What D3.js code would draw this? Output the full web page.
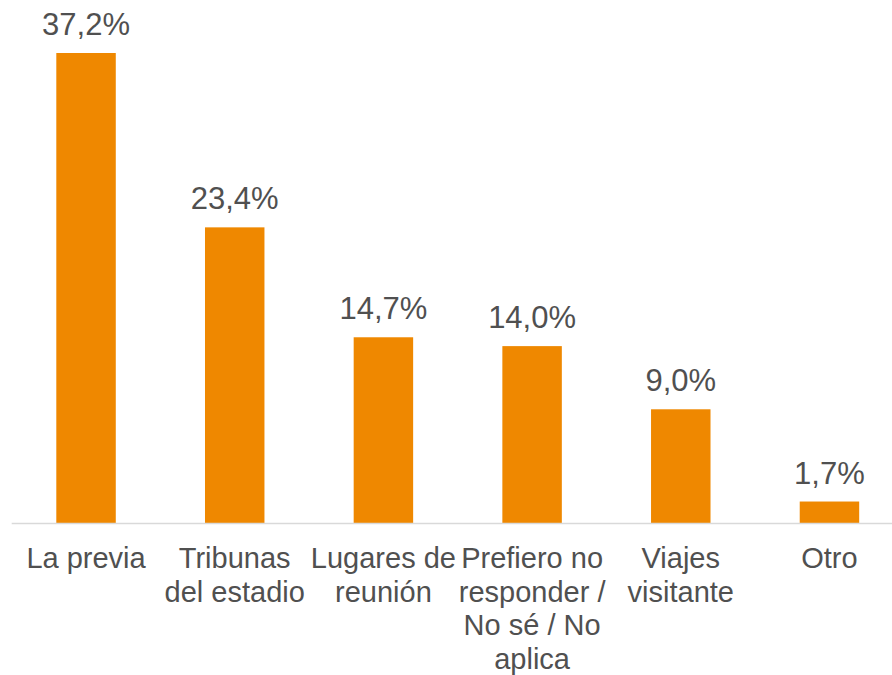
<!DOCTYPE html>
<html>
<head>
<meta charset="utf-8">
<script src="https://cdn.jsdelivr.net/npm/d3@7"></script>
<style>
  body { margin: 0; background: #ffffff; }
  svg { display: block; font-family: Arial, "Liberation Sans", sans-serif; }
</style>
</head>
<body>
<svg id="drawing_region"></svg>
<script>
const categories = ["La previa", "Tribunas del estadio", "Lugares de reunión",
  "Prefiero no responder / No sé / No aplica", "Viajes visitante", "Otro"];
const values = [37.2, 23.4, 14.7, 14.0, 9.0, 1.7];

class BarChart {
  constructor(config, cats, vals) {
    this.config = config;
    this.data = cats.map((c, i) => ({ label: c, value: vals[i] }));
    this.init();
  }

  init() {
    let self = this;
    self.svg = d3.select(self.config.parent)
      .attr('width', self.config.width)
      .attr('height', self.config.height);

    // the plot runs a little past the right edge, like in the original
    self.x = d3.scaleBand()
      .domain(self.data.map(d => d.label))
      .range([11.7, 903.8])
      .paddingInner(0.6)
      .paddingOuter(0.3);

    self.y = d3.scaleLinear()
      .domain([0, 37.2])
      .range([523, 53]);
  }

  render() {
    let self = this;
    const fmt = v => v.toFixed(1).replace('.', ',') + '%';

    self.svg.selectAll('rect.bar')
      .data(self.data)
      .join('rect')
      .attr('class', 'bar')
      .attr('x', d => self.x(d.label))
      .attr('y', d => self.y(d.value))
      .attr('width', self.x.bandwidth())
      .attr('height', d => self.y(0) - self.y(d.value))
      .attr('fill', '#ef8800');

    self.svg.append('line')
      .attr('x1', 11.7).attr('x2', self.config.width)
      .attr('y1', self.y(0) + 0.5).attr('y2', self.y(0) + 0.5)
      .attr('stroke', '#d9d9d9')
      .attr('stroke-width', 1.5);

    self.svg.selectAll('text.value')
      .data(self.data)
      .join('text')
      .attr('class', 'value')
      .attr('x', d => self.x(d.label) + self.x.bandwidth() / 2)
      .attr('y', d => self.y(d.value) - 18)
      .attr('text-anchor', 'middle')
      .attr('font-size', '31px')
      .attr('fill', '#505050')
      .text(d => fmt(d.value));

    const step = self.x.step();
    const labels = self.svg.selectAll('text.cat')
      .data(self.data)
      .join('text')
      .attr('class', 'cat')
      .attr('text-anchor', 'middle')
      .attr('font-size', '29px')
      .attr('fill', '#505050');

    // greedy word wrap inside one band
    labels.each(function(d) {
      const t = d3.select(this);
      const cx = self.x(d.label) + self.x.bandwidth() / 2;
      const words = d.label.split(' ');
      let lines = [];
      let cur = [];
      const probe = t.append('tspan');
      words.forEach(w => {
        const test = cur.concat([w]).join(' ');
        probe.text(test);
        if (probe.node().getComputedTextLength() > step + 2 && cur.length > 0) {
          lines.push(cur.join(' '));
          cur = [w];
        } else {
          cur.push(w);
        }
      });
      lines.push(cur.join(' '));
      probe.remove();
      lines.forEach((ln, i) => {
        t.append('tspan')
          .attr('x', cx)
          .attr('y', self.y(0) + 45 + i * 33.6)
          .text(ln);
      });
    });
  }
}

const chart = new BarChart({ parent: '#drawing_region', width: 892, height: 675 }, categories, values);
chart.render();
</script>
</body>
</html>
